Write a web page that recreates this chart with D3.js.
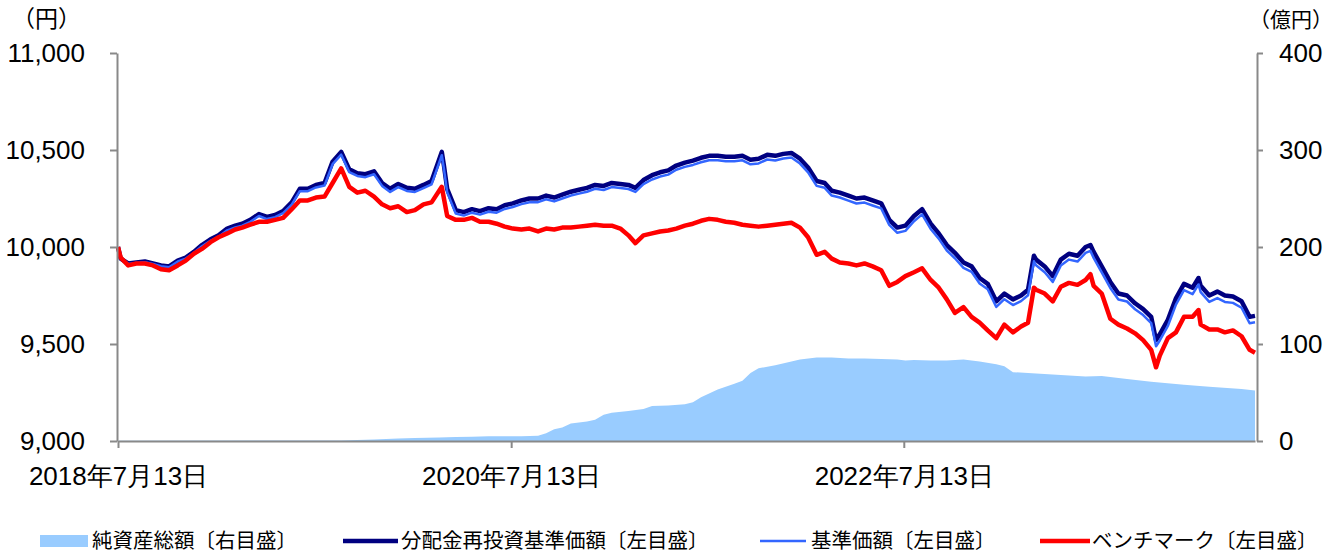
<!DOCTYPE html>
<html>
<head>
<meta charset="utf-8">
<script src="https://cdn.jsdelivr.net/npm/d3@7/dist/d3.min.js"></script>
<style>
  body { margin: 0; background: #fff; }
  svg { display: block; font-family: "Liberation Sans", Arial, "Noto Sans CJK JP", sans-serif; }
  .axis path, .axis line { stroke: #898989; stroke-width: 2px; }
  .axis text { font-size: 26px; fill: #000; }
  .legendText { font-family: "Noto Sans CJK JP", sans-serif; font-size: 20.5px; fill: #000; }
  .unit { font-family: "Noto Sans CJK JP", sans-serif; fill: #000; }
</style>
</head>
<body>
<svg id="chart" width="1333" height="553"></svg>
<script>
// dates of the line samples (semi-monthly, plus a few spike days)
var lineDates = [
  "2018-07-13","2018-07-18","2018-08-01","2018-08-16","2018-09-01","2018-09-16","2018-10-01","2018-10-16","2018-11-01","2018-11-16","2018-12-01","2018-12-16",
  "2019-01-01","2019-01-16","2019-02-01","2019-02-16","2019-03-01","2019-03-16","2019-04-01","2019-04-16","2019-05-01","2019-05-16","2019-06-01","2019-06-16",
  "2019-07-01","2019-07-16","2019-08-01","2019-08-16","2019-09-01","2019-09-16","2019-10-01","2019-10-16","2019-11-01","2019-11-16","2019-12-01","2019-12-16",
  "2020-01-01","2020-01-16","2020-02-01","2020-02-16","2020-03-06","2020-03-10","2020-03-16","2020-04-01","2020-04-16","2020-05-01","2020-05-16","2020-06-01","2020-06-16",
  "2020-07-01","2020-07-16","2020-08-01","2020-08-16","2020-09-01","2020-09-16","2020-10-01","2020-10-16","2020-11-01","2020-11-16","2020-12-01","2020-12-16",
  "2021-01-01","2021-01-16","2021-02-01","2021-02-16","2021-03-01","2021-03-16","2021-04-01","2021-04-16","2021-05-01","2021-05-16","2021-06-01","2021-06-16",
  "2021-07-01","2021-07-16","2021-08-01","2021-08-16","2021-09-01","2021-09-16","2021-10-01","2021-10-16","2021-11-01","2021-11-16","2021-12-01","2021-12-16",
  "2022-01-01","2022-01-16","2022-02-01","2022-02-16","2022-03-01","2022-03-16","2022-04-01","2022-04-16","2022-05-01","2022-05-16","2022-06-01","2022-06-16",
  "2022-07-01","2022-07-16","2022-08-01","2022-08-16","2022-09-01","2022-09-16","2022-10-01","2022-10-16","2022-11-01","2022-11-16","2022-12-01","2022-12-16",
  "2023-01-01","2023-01-16","2023-02-01","2023-02-16","2023-03-01","2023-03-12","2023-03-16","2023-04-01","2023-04-16","2023-05-01","2023-05-16","2023-06-01","2023-06-16","2023-06-25",
  "2023-07-01","2023-07-16","2023-08-01","2023-08-16","2023-09-01","2023-09-16","2023-10-01","2023-10-16","2023-10-25","2023-11-01","2023-11-16","2023-12-01","2023-12-16",
  "2024-01-01","2024-01-12","2024-01-16","2024-02-01","2024-02-16","2024-03-01","2024-03-16","2024-04-01","2024-04-16","2024-04-26"
];

// 分配金再投資基準価額 (yen)
var reinvestNav = [
  10000, 9940, 9915, 9920, 9925, 9915, 9905, 9900, 9930, 9945, 9975, 10010,
  10040, 10060, 10095, 10110, 10120, 10140, 10170, 10155, 10165, 10185, 10230, 10300,
  10300, 10320, 10330, 10440, 10490, 10400, 10380, 10375, 10390, 10330, 10300, 10325,
  10305, 10300, 10320, 10340, 10490, 10420, 10300, 10190, 10180, 10195, 10185, 10200, 10195,
  10215, 10225, 10240, 10250, 10250, 10265, 10255, 10270, 10285, 10295, 10305, 10320,
  10315, 10330, 10325, 10320, 10305, 10345, 10370, 10385, 10395, 10420, 10435, 10445,
  10460, 10470, 10470, 10465, 10465, 10470, 10450, 10455, 10475, 10470, 10480, 10485,
  10455, 10410, 10340, 10330, 10290, 10280, 10265, 10250, 10255, 10240, 10225, 10140,
  10100, 10110, 10160, 10195, 10120, 10070, 10010, 9970, 9920, 9900, 9840, 9810,
  9720, 9760, 9730, 9750, 9780, 9955, 9935, 9900, 9850, 9935, 9965, 9955, 10000, 10010,
  9975, 9900, 9820, 9760, 9750, 9710, 9680, 9640, 9520, 9550, 9625, 9735, 9810,
  9790, 9840, 9800, 9750, 9770, 9750, 9745, 9720, 9640, 9645
];

// 基準価額 (yen)
var baseNav = [
  10000, 9940, 9913, 9918, 9922, 9912, 9901, 9896, 9925, 9940, 9969, 10004,
  10032, 10052, 10086, 10101, 10110, 10130, 10160, 10144, 10154, 10174, 10218, 10288,
  10288, 10307, 10317, 10427, 10476, 10386, 10366, 10360, 10375, 10315, 10284, 10309,
  10289, 10284, 10303, 10323, 10473, 10403, 10283, 10172, 10162, 10177, 10167, 10182, 10177,
  10196, 10206, 10221, 10231, 10231, 10246, 10235, 10250, 10265, 10275, 10285, 10300,
  10294, 10309, 10304, 10299, 10284, 10324, 10348, 10363, 10373, 10398, 10413, 10423,
  10437, 10447, 10447, 10442, 10442, 10447, 10426, 10431, 10451, 10446, 10456, 10461,
  10430, 10385, 10315, 10305, 10265, 10255, 10239, 10224, 10229, 10214, 10199, 10114,
  10073, 10083, 10133, 10168, 10093, 10043, 9982, 9942, 9892, 9872, 9812, 9782,
  9691, 9731, 9701, 9721, 9751, 9926, 9906, 9870, 9820, 9905, 9935, 9925, 9970, 9980,
  9944, 9869, 9789, 9729, 9719, 9679, 9649, 9608, 9488, 9518, 9593, 9703, 9778,
  9757, 9807, 9767, 9717, 9737, 9717, 9712, 9687, 9607, 9612
];

// ベンチマーク (yen)
var benchmark = [
  10000, 9945, 9905, 9915, 9915, 9905, 9885, 9880, 9905, 9930, 9965, 9990,
  10025, 10050, 10070, 10090, 10100, 10115, 10130, 10130, 10140, 10150, 10195, 10240,
  10240, 10255, 10260, 10330, 10405, 10310, 10280, 10290, 10260, 10220, 10200, 10210,
  10180, 10190, 10220, 10230, 10310, 10250, 10160, 10140, 10140, 10150, 10130, 10130, 10120,
  10105, 10095, 10090, 10095, 10080, 10095, 10090, 10100, 10100, 10105, 10110, 10115,
  10110, 10110, 10095, 10060, 10020, 10060, 10070, 10080, 10085, 10095, 10110, 10120,
  10135, 10145, 10140, 10130, 10125, 10115, 10110, 10105, 10110, 10115, 10120, 10125,
  10100, 10050, 9960, 9975, 9940, 9920, 9915, 9905, 9915, 9900, 9880, 9800,
  9820, 9850, 9870, 9890, 9830, 9790, 9730, 9660, 9690, 9640, 9610, 9570,
  9530, 9600, 9560, 9590, 9610, 9790, 9780, 9760, 9720, 9795, 9815, 9805, 9830, 9860,
  9800, 9760, 9630, 9600, 9580, 9555, 9520, 9470, 9380, 9440, 9530, 9560, 9640,
  9640, 9675, 9600, 9575, 9575, 9560, 9570, 9540, 9470, 9455
];

// 純資産総額 (億円)
var aumDates = [
  "2018-07-13","2019-09-01","2019-10-01","2019-11-01","2019-12-16","2020-01-16","2020-03-01","2020-04-01","2020-05-01","2020-06-01",
  "2020-07-01","2020-08-01","2020-09-01","2020-09-16","2020-10-01","2020-10-16","2020-11-01","2020-12-01","2020-12-16","2021-01-01",
  "2021-01-16","2021-02-16","2021-03-16","2021-04-01","2021-05-01","2021-06-01","2021-06-16","2021-07-01","2021-07-16","2021-08-01",
  "2021-09-01","2021-09-16","2021-10-01","2021-10-16","2021-11-16","2021-12-16","2022-01-01","2022-02-01","2022-03-01","2022-04-01",
  "2022-05-01","2022-06-01","2022-07-01","2022-07-16","2022-08-01","2022-09-01","2022-10-01","2022-11-01","2022-12-01","2023-01-01",
  "2023-01-16","2023-02-01","2023-03-01","2023-05-01","2023-06-16","2023-07-16","2023-09-01","2023-10-16","2023-12-16","2024-02-01",
  "2024-04-01","2024-04-26"
];
var aumValues = [
  0.3, 0.5, 1, 1.5, 2.5, 3, 3.5, 4, 4.5, 5,
  5, 5, 5.5, 8, 12, 14, 18, 20, 22, 27,
  29, 31, 33, 36, 36.5, 38, 40, 45, 49, 53,
  59, 62, 70, 75, 78, 82, 84, 86, 86, 85,
  85, 84.5, 84, 83, 83.5, 83, 83, 84, 82, 79,
  77, 71, 70, 68, 66.5, 67, 64, 61, 58, 56,
  53.5, 52
];

var leftTicks = [9000, 9500, 10000, 10500, 11000];
var rightTicks = [0, 100, 200, 300, 400];
var xTickDates = ["2018-07-13", "2020-07-13", "2022-07-13"];

var parse = d3.timeParse("%Y-%m-%d");
var svg = d3.select("#chart");

var plot = {left: 117, right: 1257, top: 53, bottom: 441};

var x = d3.scaleTime()
  .domain([parse("2018-07-13"), parse("2024-04-26")])
  .range([118, 1255]);
var yL = d3.scaleLinear().domain([9000, 11000]).range([plot.bottom, plot.top]);
var yR = d3.scaleLinear().domain([0, 400]).range([plot.bottom, plot.top]);

var rows = lineDates.map(function(d, i) {
  return {date: parse(d), reinvest: reinvestNav[i], base: baseNav[i], bench: benchmark[i]};
});
var aum = aumDates.map(function(d, i) { return {date: parse(d), v: aumValues[i]}; });

// area (right scale)
svg.append("path")
  .datum(aum)
  .attr("fill", "#99ccff")
  .attr("d", d3.area()
    .x(function(d) { return x(d.date); })
    .y0(yR(0))
    .y1(function(d) { return yR(d.v); }));

function drawLine(key, color, w) {
  svg.append("path")
    .datum(rows)
    .attr("fill", "none")
    .attr("stroke", color)
    .attr("stroke-width", w)
    .attr("stroke-linejoin", "round")
    .attr("d", d3.line()
      .x(function(d) { return x(d.date); })
      .y(function(d) { return yL(d[key]); }));
}
drawLine("reinvest", "#000080", 4.5);
drawLine("base", "#3366ff", 2.5);
drawLine("bench", "#ff0000", 4.5);

// axes
svg.append("g")
  .attr("class", "axis")
  .attr("transform", "translate(" + plot.left + ",0)")
  .call(d3.axisLeft(yL).tickValues(leftTicks).tickFormat(d3.format(","))
    .tickSize(7).tickSizeOuter(0).tickPadding(25));

svg.append("g")
  .attr("class", "axis")
  .attr("transform", "translate(" + plot.right + ",0)")
  .call(d3.axisRight(yR).tickValues(rightTicks)
    .tickSize(6).tickSizeOuter(0).tickPadding(16));

svg.append("g")
  .attr("class", "axis")
  .attr("transform", "translate(0," + plot.bottom + ")")
  .call(d3.axisBottom(x).tickValues(xTickDates.map(parse))
    .tickFormat(d3.timeFormat("%Y年%-m月%-d日"))
    .tickSize(7).tickSizeOuter(0).tickPadding(19));

svg.selectAll(".axis .domain").attr("fill", "none");

// unit labels
svg.append("text").attr("class", "unit").attr("x", 12).attr("y", 27)
  .style("font-size", "23px").text("（円）");
svg.append("text").attr("class", "unit").attr("x", 1249).attr("y", 27)
  .style("font-size", "21px").text("（億円）");

// legend
var legendY = 541;
var legend = [
  {label: "純資産総額〔右目盛〕", type: "rect", color: "#99ccff", x0: 40, x1: 88, tx: 92},
  {label: "分配金再投資基準価額〔左目盛〕", type: "line", color: "#000080", w: 4.5, x0: 343, x1: 398, tx: 401},
  {label: "基準価額〔左目盛〕", type: "line", color: "#3366ff", w: 2.5, x0: 760, x1: 806, tx: 811},
  {label: "ベンチマーク〔左目盛〕", type: "line", color: "#ff0000", w: 4.5, x0: 1040, x1: 1090, tx: 1092}
];
var lg = svg.selectAll(".legend").data(legend).enter().append("g").attr("class", "legend");
lg.each(function(d) {
  var g = d3.select(this);
  if (d.type === "rect") {
    g.append("rect").attr("x", d.x0).attr("y", legendY - 6).attr("width", d.x1 - d.x0).attr("height", 12).attr("fill", d.color);
  } else {
    g.append("line").attr("x1", d.x0).attr("x2", d.x1).attr("y1", legendY).attr("y2", legendY)
      .attr("stroke", d.color).attr("stroke-width", d.w);
  }
  g.append("text").attr("class", "legendText").attr("x", d.tx).attr("y", legendY)
    .attr("dy", "0.35em").text(d.label);
});
</script>
</body>
</html>
